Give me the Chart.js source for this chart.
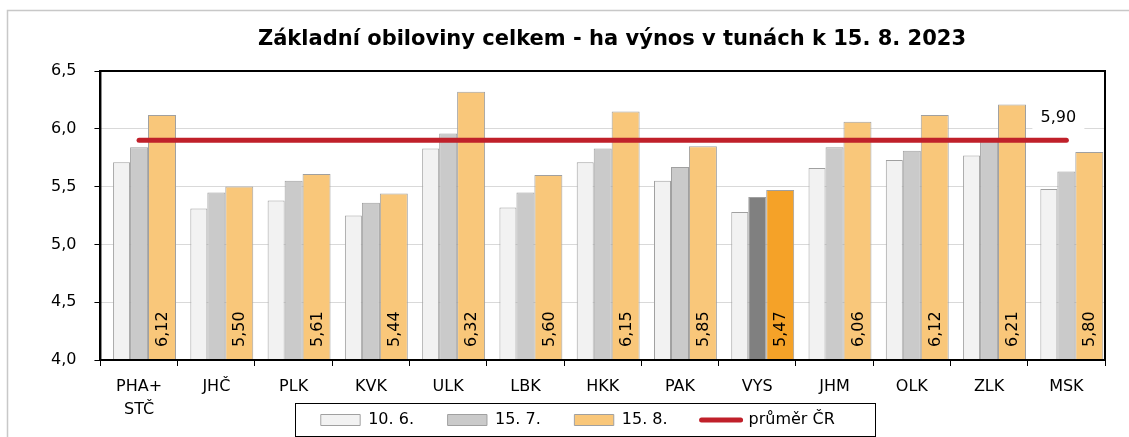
<!DOCTYPE html>
<html>
<head>
<meta charset="utf-8">
<script src="https://cdn.jsdelivr.net/npm/chart.js@4/dist/chart.umd.min.js"></script>
<style>
  html, body { margin: 0; padding: 0; background: #fff; }
  #wrap { width: 1129px; height: 437px; position: relative; }
</style>
</head>
<body>
<div id="wrap"><canvas id="yieldChart"></canvas></div>
<script>
const regions = [['PHA+', 'STČ'], 'JHČ', 'PLK', 'KVK', 'ULK', 'LBK', 'HKK', 'PAK', 'VYS', 'JHM', 'OLK', 'ZLK', 'MSK'];
const june10 = [5.71, 5.31, 5.38, 5.25, 5.83, 5.32, 5.71, 5.55, 5.28, 5.66, 5.73, 5.77, 5.48];
const july15 = [5.84, 5.45, 5.55, 5.36, 5.96, 5.45, 5.83, 5.67, 5.41, 5.84, 5.81, 5.90, 5.63];
const aug15 = [6.12, 5.50, 5.61, 5.44, 6.32, 5.60, 6.15, 5.85, 5.47, 6.06, 6.12, 6.21, 5.80];
const czAverage = 5.90;
const seriesLabels = ['10. 6.', '15. 7.', '15. 8.', 'průměr ČR'];
const yTicks = [4.0, 4.5, 5.0, 5.5, 6.0, 6.5];
const highlight = 'VYS';

const FONT = "'DejaVu Sans', sans-serif";
const fmt = v => v.toFixed(2).replace('.', ',');

// VYS bars are drawn darker
const isHi = i => regions[i] === highlight;
const julyColors = regions.map((r, i) => isHi(i) ? '#808080' : '#CACACA');
const augColors = regions.map((r, i) => isHi(i) ? '#F5A228' : '#F9C77A');

const LEGEND_PAD = 34;
const LEGEND_SHIFT = 42;

const framePlugin = {
    id: 'frame',
    afterLayout(chart) {
        // legend sits beside the two-line category label, not below it
        const lg = chart.legend;
        lg.top -= LEGEND_SHIFT;
        lg.bottom = chart.height;
        lg.height = lg.bottom - lg.top;
        lg.left += 9;
        lg.right += 9;
    },
    beforeDraw(chart) {
        const ctx = chart.ctx;
        ctx.save();
        ctx.strokeStyle = '#C8C8C8';
        ctx.lineWidth = 1.5;
        ctx.strokeRect(7.5, 10.5, 1140, 460);
        ctx.restore();
    },
    afterDraw(chart) {
        const ctx = chart.ctx;
        const a = chart.chartArea;
        ctx.save();
        // plot area frame
        ctx.strokeStyle = '#000';
        ctx.lineWidth = 2;
        ctx.strokeRect(a.left, a.top, a.right - a.left, a.bottom - a.top);

        // title
        ctx.fillStyle = '#000';
        ctx.font = 'bold 21px ' + FONT;
        ctx.textAlign = 'center';
        ctx.textBaseline = 'middle';
        ctx.fillText('Základní obiloviny celkem - ha výnos v tunách k 15. 8. 2023', 612, 40);

        // values inside the 15.8. bars
        const meta = chart.getDatasetMeta(2);
        ctx.font = '16px ' + FONT;
        ctx.textAlign = 'left';
        meta.data.forEach((bar, i) => {
            ctx.save();
            ctx.translate(bar.x + 1, a.bottom - 13);
            ctx.rotate(-Math.PI / 2);
            ctx.fillText(fmt(aug15[i]), 0, 0);
            ctx.restore();
        });

        // average label at the end of the line
        const lm = chart.getDatasetMeta(3);
        const last = lm.data[lm.data.length - 1];
        const lx = last.x - 8, ly = last.y - 23;
        ctx.fillStyle = '#fff';
        ctx.fillRect(lx - 26, ly - 13, 52, 26);
        ctx.fillStyle = '#000';
        ctx.textAlign = 'center';
        ctx.fillText(fmt(czAverage), lx, ly);

        // legend frame
        const lg = chart.legend;
        const boxes = lg.legendHitBoxes;
        if (boxes && boxes.length) {
            const first = boxes[0], lastB = boxes[boxes.length - 1];
            const itemTop = lg.top + LEGEND_PAD;
            ctx.strokeStyle = '#000';
            ctx.lineWidth = 1;
            ctx.strokeRect(Math.round(first.left) - 25.5, Math.round(itemTop) - 8.5,
                Math.round(lastB.left + lastB.width - first.left) + 66, 33);
        }
        ctx.restore();
    }
};

new Chart(document.getElementById('yieldChart'), {
    data: {
        labels: regions,
        datasets: [
            {
                type: 'bar', label: seriesLabels[0], data: june10,
                backgroundColor: '#F2F2F2', borderColor: '#A0A0A0', borderWidth: 1,
                categoryPercentage: 0.68, barPercentage: 0.97, order: 2
            },
            {
                type: 'bar', label: seriesLabels[1], data: july15,
                backgroundColor: julyColors, borderColor: '#A0A0A0', borderWidth: 1,
                categoryPercentage: 0.70, barPercentage: 1.0, order: 2
            },
            {
                type: 'bar', label: seriesLabels[2], data: aug15,
                backgroundColor: augColors, borderColor: '#A0A0A0', borderWidth: 1,
                categoryPercentage: 0.89, barPercentage: 1.22, order: 2
            },
            {
                type: 'line', label: seriesLabels[3], data: regions.map(() => czAverage),
                borderColor: '#C0202A', backgroundColor: '#C0202A', borderWidth: 5,
                borderCapStyle: 'round', pointRadius: 0, order: 1
            }
        ]
    },
    options: {
        responsive: true,
        maintainAspectRatio: false,
        animation: false,
        layout: { padding: { left: 33, right: 24, top: 71, bottom: 0 } },
        plugins: {
            title: { display: false },
            tooltip: { enabled: false },
            legend: {
                position: 'bottom',
                maxHeight: 17,
                labels: {
                    usePointStyle: true,
                    pointStyleWidth: 39,
                    boxHeight: 11,
                    padding: LEGEND_PAD,
                    color: '#000',
                    font: { family: FONT, size: 16 },
                    generateLabels(chart) {
                        return chart.data.datasets.map((ds, i) => ({
                            text: ds.label,
                            datasetIndex: i,
                            fillStyle: i === 0 ? '#F2F2F2' : i === 1 ? '#CACACA' : i === 2 ? '#F9C77A' : '#C0202A',
                            strokeStyle: i === 3 ? '#C0202A' : '#A0A0A0',
                            lineWidth: i === 3 ? 5 : 1,
                            lineCap: 'round',
                            pointStyle: i === 3 ? 'line' : 'rect',
                            fontColor: '#000'
                        }));
                    }
                }
            }
        },
        scales: {
            x: {
                offset: true,
                afterFit(scale) { scale.height = 60; },
                grid: { display: true, drawOnChartArea: false, offset: true, tickLength: 6, tickColor: '#000' },
                border: { color: '#000', width: 2 },
                ticks: { color: '#000', font: { family: FONT, size: 16, lineHeight: 1.4 }, padding: 10, maxRotation: 0, autoSkip: false }
            },
            y: {
                min: 4, max: 6.5,
                afterBuildTicks(scale) { scale.ticks = yTicks.map(v => ({ value: v })); },
                grid: { color: '#D9D9D9', tickLength: 6, tickColor: '#000' },
                border: { color: '#000', width: 2 },
                ticks: {
                    color: '#000', padding: 18,
                    font: { family: FONT, size: 16 },
                    callback: v => v.toFixed(1).replace('.', ',')
                }
            }
        }
    },
    plugins: [framePlugin]
});
</script>
</body>
</html>
